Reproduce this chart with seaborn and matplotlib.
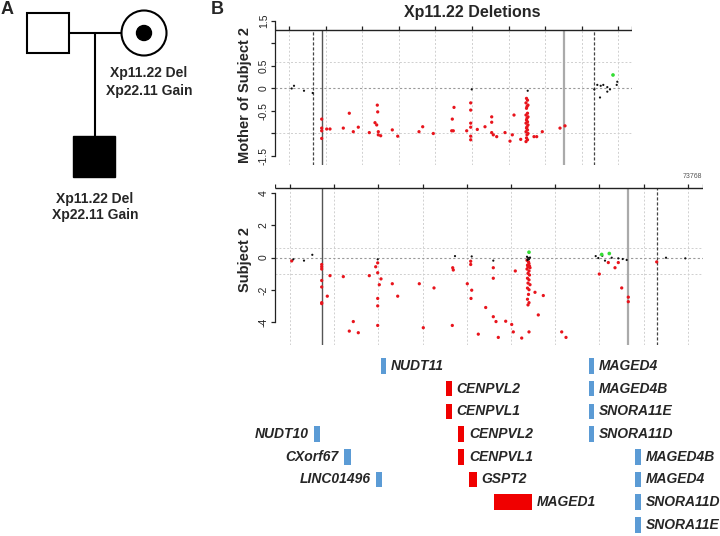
import matplotlib
matplotlib.use("Agg")
import matplotlib.pyplot as plt
from matplotlib.patches import Rectangle, Circle
import seaborn as sns
import pandas as pd

# ---- panel B: probe positions (kb from window start) and log2 ratios ----
mother_loss_pos = [46.7, 46.7, 46.7, 46.7, 51.7, 55, 68.3, 74.3, 78.3, 83.3, 94.3, 100,
                   102.3, 102.7, 101.7, 103.3, 103.3, 105.7, 117.3, 122.7, 144, 147.7, 158.3,
                   177.3, 179, 176.7, 178.3, 191.7, 195.7, 195.7, 195.7, 195.7, 195.7, 195.7,
                   202.3, 210, 216.7, 216.7, 216.7, 218.3, 221.7, 230, 239, 237.3, 235, 245.7,
                   251.5, 252.5, 251, 253, 252, 251.5, 252.5, 251, 253, 252, 251.5, 252.5,
                   251, 253, 252, 251.5, 252.5, 251, 253, 252, 251.5, 252.5, 251,
                   259, 261.7, 267.3, 285, 290]
mother_loss_val = [-0.68, -0.88, -0.94, -1.11, -0.9, -0.9, -0.88, -0.55, -0.96, -0.86, -0.98, -0.76,
                   -0.37, -0.52, -0.81, -0.96, -1.03, -1.05, -0.92, -1.06, -0.96, -0.85, -1.0,
                   -0.68, -0.42, -0.94, -0.94, -0.94, -0.32, -0.48, -0.77, -0.86, -1.06, -1.14,
                   -0.91, -0.85, -0.63, -0.75, -0.98, -1.03, -1.07, -0.98, -0.59, -1.03, -1.17, -1.13,
                   -0.22, -0.26, -0.32, -0.37, -0.4, -0.44, -0.55, -0.59, -0.63, -0.66, -0.7, -0.74,
                   -0.77, -0.81, -0.85, -0.88, -0.92, -0.96, -1.0, -1.03, -1.1, -1.14, -1.18,
                   -1.07, -1.07, -0.96, -0.88, -0.83]
mother_normal_pos = [16.7, 19, 29, 37.7, 196.7, 252.7, 319.3, 322.3, 325.7, 328.3, 325, 332.3,
                     335, 332.3, 342.3, 341.7]
mother_normal_val = [0.0, 0.06, -0.05, -0.1, -0.02, -0.05, -0.02, 0.08, 0.06, 0.08, -0.2, 0.03,
                     -0.02, -0.07, 0.15, 0.08]
mother_gain_pos = [338]
mother_gain_val = [0.3]

subject_loss_pos = [16.7, 46.7, 46.7, 46.7, 46.7, 46.7, 46.7, 46.7,
                    55, 52.3, 68.3, 78.3, 74.3, 83.3,
                    94.3, 100.7, 102.7, 102.7, 104.3, 106, 102.7, 102.7, 102.7,
                    117.3, 122.7, 144.3, 148.3, 159, 177.7, 178.3, 177.3,
                    192.3, 195.7, 195.7, 196.7, 196, 210.7, 203.3,
                    218.3, 218.3, 218.3, 221, 223.3, 230.7, 236.7, 238.3, 240.3, 246.7,
                    252, 253.5, 254, 252.5, 254.5, 253, 255, 252, 254, 253, 254.5,
                    252.5, 254, 253, 255, 252.5, 254, 253.5, 252.5, 254, 253,
                    254, 260, 263.3, 268.3, 286.7, 291,
                    324.3, 333.3, 340, 343.3, 346.7, 353.3, 353.3, 381.7]
subject_loss_val = [-0.21, -0.43, -0.57, -0.71, -1.42, -1.82, -2.79, -2.85,
                    -1.12, -2.39, -1.18, -3.96, -4.55, -4.65,
                    -1.12, -0.57, -0.33, -0.94, -1.68, -1.32, -2.53, -2.99, -4.2,
                    -1.62, -2.39, -1.62, -4.34, -1.88, -0.63, -0.77, -4.2,
                    -1.62, -0.23, -0.43, -2.02, -2.53, -3.09, -4.74,
                    -0.63, -1.28, -3.66, -3.96, -4.94, -3.94, -4.14, -4.6, -0.83, -4.98,
                    -0.17, -0.27, -0.37, -0.47, -0.53, -0.57, -0.63, -0.71, -0.83, -0.98, -1.08,
                    -1.28, -1.38, -1.58, -1.68, -1.89, -1.99, -2.28, -2.58, -2.79, -2.93,
                    -4.6, -2.15, -3.55, -2.35, -4.6, -4.94,
                    -1.02, -0.31, -0.63, -0.31, -1.88, -2.45, -2.73, -0.27]
subject_normal_pos = [18.3, 29, 37.3, 102.7, 180, 196.7, 218.3, 252, 253, 254, 252.5, 255,
                      320.7, 323.3, 327.3, 330, 336.7, 343.3, 347.7, 351.7, 391, 410.3]
subject_normal_val = [-0.11, -0.19, 0.17, -0.11, 0.09, 0.07, -0.19, 0.05, -0.02, -0.1, -0.15, 0.0,
                      0.09, -0.03, 0.11, -0.19, -0.01, -0.05, -0.09, -0.15, -0.01, -0.05]
subject_gain_pos = [254, 326.7, 334.3]
subject_gain_val = [0.33, 0.19, 0.25]

# grid / tick positions and breakpoint lines
mother_grid = [14, 50.6, 87.2, 123.8, 160.4, 197, 233.6, 270.2, 306.8, 343.4]
subject_grid = [15, 59.2, 103.4, 147.6, 191.8, 236, 280.2, 324.4, 368.6, 412.8]
mother_breaks = {"dash": [38, 319], "solid": [47], "gray": [289]}
subject_breaks = {"dash": [382], "solid": [47], "gray": [353]}
thresholds = [0.58, -1.0]

# ---- gene track ----
gene_names = ["NUDT11", "MAGED4", "CENPVL2", "MAGED4B", "CENPVL1", "SNORA11E",
              "NUDT10", "CENPVL2", "SNORA11D", "CXorf67", "CENPVL1", "MAGED4B",
              "LINC01496", "GSPT2", "MAGED4", "MAGED1", "SNORA11D", "SNORA11E"]
gene_start = [105.7, 314, 171, 314, 171, 314, 39, 183, 314, 69, 183, 360,
              100.7, 194, 360, 219, 360, 360]
gene_end = [110.7, 319, 176.7, 319, 176.7, 319, 45, 189, 319, 75.7, 189, 365.7,
            106.7, 201.7, 366, 256.7, 366, 366]
gene_row = [0, 0, 1, 1, 2, 2, 3, 3, 3, 4, 4, 4, 5, 5, 5, 6, 6, 7]
gene_deleted = [False, False, True, False, True, False, False, True, False, False, True, False,
                False, True, False, True, False, False]
gene_label_side = ["r", "r", "r", "r", "r", "r", "l", "r", "r", "l", "r", "r",
                   "l", "r", "r", "r", "r", "r"]

# ---- pedigree ----
ped_labels = ["Xp11.22 Del", "Xp22.11 Gain"]

CALL_COLORS = {"loss": "#e8141c", "normal": "#111111", "gain": "#33dd33"}
CALL_SIZES = {"loss": 5.5, "normal": 2.5, "gain": 7}

sns.set_style("white")
plt.rcParams["font.family"] = ["Liberation Sans", "DejaVu Sans"]

W, H = 720, 536
fig = plt.figure(figsize=(7.2, 5.36), dpi=100)


def fig_axes(x0, x1, y0, y1):
    return fig.add_axes([x0 / W, 1 - y1 / H, (x1 - x0) / W, (y1 - y0) / H])


def probe_frame(lp, lv, np_, nv, gp, gv):
    return pd.concat([
        pd.DataFrame({"pos": lp, "log2": lv, "call": "loss"}),
        pd.DataFrame({"pos": np_, "log2": nv, "call": "normal"}),
        pd.DataFrame({"pos": gp, "log2": gv, "call": "gain"}),
    ], ignore_index=True)


def cnv_panel(ax, df, xmax, ylo, ytop, yline, grid, breaks, yticks, ylabels, tick_up):
    for g in grid:
        ax.vlines(g, ylo, yline, colors="#d0d0d0", linestyles=(0, (2, 2)), lw=0.7, zorder=1)
    for t in thresholds:
        ax.hlines(t, 0, xmax, colors="#cfcfcf", linestyles=(0, (2, 2)), lw=0.7, zorder=1)
    ax.hlines(0, 0, xmax, colors="#9a9a9a", linestyles=(0, (2, 2)), lw=0.8, zorder=1)
    ax.vlines(breaks["dash"], ylo, yline, colors="#444444", linestyles=(0, (2.5, 1.5)), lw=0.9, zorder=2)
    ax.vlines(breaks["solid"], ylo, yline, colors="#555555", lw=1.0, zorder=2)
    ax.vlines(breaks["gray"], ylo, yline, colors="#aaaaaa", lw=1.6, zorder=2)
    sns.scatterplot(data=df, x="pos", y="log2", hue="call", size="call",
                    palette=CALL_COLORS, sizes=CALL_SIZES, linewidth=0,
                    legend=False, ax=ax, zorder=5)
    ax.hlines(yline, 0, xmax, colors="#222222", lw=1.0, zorder=3)
    ax.vlines([0] + grid + [xmax], yline, yline + tick_up, colors="#222222", lw=0.9, zorder=3)
    ax.set_xlim(0, xmax)
    ax.set_ylim(ylo, ytop)
    ax.set_xlabel("")
    ax.set_ylabel("")
    ax.set_xticks([])
    for s in ["top", "right", "bottom"]:
        ax.spines[s].set_visible(False)
    ax.spines["left"].set_color("#222222")
    ax.spines["left"].set_linewidth(0.9)
    ax.spines["left"].set_bounds(yticks[-1], yticks[0])
    ax.set_yticks(yticks)
    ax.set_yticklabels(ylabels, fontsize=7.5, rotation=90, va="center")
    ax.tick_params(axis="y", length=3, width=0.9, pad=1.5, colors="#222222", left=True)
    ax.set_facecolor("none")


# top panel: mother of subject 2
ax_m = fig_axes(275, 632, 19, 165)
cnv_panel(ax_m, probe_frame(mother_loss_pos, mother_loss_val, mother_normal_pos,
                            mother_normal_val, mother_gain_pos, mother_gain_val),
          357, -1.7, 1.544, 1.3, mother_grid, mother_breaks,
          [1.5, 1.0, 0.5, 0, -0.5, -1.0, -1.5], ["1.5", "", "0.5", "0", "-0.5", "", "-1.5"], 0.09)

# bottom panel: subject 2
ax_s = fig_axes(275, 703, 184, 345)
cnv_panel(ax_s, probe_frame(subject_loss_pos, subject_loss_val, subject_normal_pos,
                            subject_normal_val, subject_gain_pos, subject_gain_val),
          428, -5.41, 4.55, 4.32, subject_grid, subject_breaks,
          [4, 2, 0, -2, -4], ["4", "2", "0", "-2", "-4"], 0.24)

fig.text(245 / W, 1 - 95 / H, "Mother of Subject 2", rotation=90, ha="center", va="center",
         fontsize=10.5, fontweight="bold")
fig.text(245 / W, 1 - 260 / H, "Subject 2", rotation=90, ha="center", va="center",
         fontsize=10.5, fontweight="bold")
fig.text(472 / W, 1 - 13 / H, "Xp11.22 Deletions", ha="center", va="center",
         fontsize=11.5, fontweight="bold")
fig.text(692 / W, 1 - 177 / H, "73768", ha="center", va="center", fontsize=5, color="#555555")
fig.text(217 / W, 1 - 10 / H, "B", ha="center", va="center", fontsize=13, fontweight="bold")

# gene track
ax_g = fig_axes(230, 720, 355, 536)
ax_g.barh(gene_row, [e - s for s, e in zip(gene_start, gene_end)], left=gene_start, height=0.68,
          color=["#f00000" if d else "#5b9bd5" for d in gene_deleted], linewidth=0)
for name, s, e, r, side in zip(gene_names, gene_start, gene_end, gene_row, gene_label_side):
    if side == "r":
        ax_g.text(e + 5, r, name, ha="left", va="center", fontsize=10,
                  fontweight="bold", fontstyle="italic")
    else:
        ax_g.text(s - 5, r, name, ha="right", va="center", fontsize=10,
                  fontweight="bold", fontstyle="italic")
ax_g.set_xlim(-45, 445)
ax_g.set_ylim(7.49, -0.485)
ax_g.axis("off")

# panel A: pedigree
ax_p = fig_axes(0, 230, 0, 536)
ax_p.set_xlim(0, 230)
ax_p.set_ylim(536, 0)
ax_p.axis("off")
ax_p.add_patch(Rectangle((27, 13), 42, 40, fill=False, lw=1.5, ec="black"))
ax_p.add_patch(Circle((144, 33), 22.5, fill=False, lw=1.5, ec="black"))
ax_p.add_patch(Circle((144, 33), 7.5, color="black"))
ax_p.plot([69, 121.5], [33, 33], color="black", lw=1.5)
ax_p.plot([95, 95], [33, 136], color="black", lw=1.5)
ax_p.add_patch(Rectangle((73, 136), 42, 41, color="black"))
for i, lab in enumerate(ped_labels):
    ax_p.text(149, 73 + 17.5 * i, lab, ha="center", va="center", fontsize=10, fontweight="bold")
    ax_p.text(95, 199 + 15.5 * i, lab, ha="center", va="center", fontsize=10, fontweight="bold")
ax_p.text(7.5, 10, "A", ha="center", va="center", fontsize=13, fontweight="bold")

fig.savefig("out.png", dpi=100)
